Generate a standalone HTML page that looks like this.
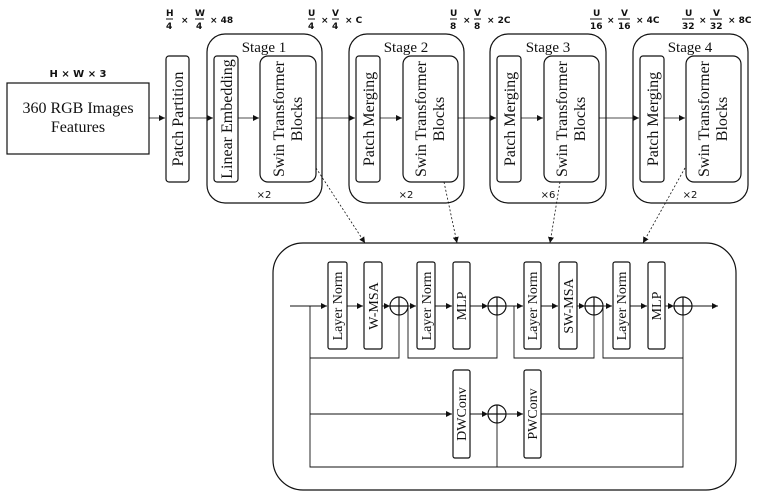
<!DOCTYPE html>
<html><head><meta charset="utf-8"><style>
html,body{margin:0;padding:0;background:#fff;}
svg{display:block;}
.s{font-family:"Liberation Serif",serif;fill:#111;}
.d{font-family:"DejaVu Sans","Liberation Sans",sans-serif;fill:#111;font-weight:bold;}
</style></head><body>
<svg width="758" height="500" viewBox="0 0 758 500" xmlns="http://www.w3.org/2000/svg">
<defs><marker id="a" markerWidth="7" markerHeight="7" refX="6" refY="3.5" orient="auto" markerUnits="userSpaceOnUse"><path d="M0,0.5 L6,3.5 L0,6.5 z" fill="#111"/></marker></defs>
<g fill="none" stroke="#111" stroke-width="1.2">
<rect x="7" y="83" width="142" height="71"/>
<rect x="166" y="56" width="23" height="126" rx="3"/>
<rect x="207" y="34" width="115" height="169" rx="18"/>
<rect x="214" y="56" width="24" height="126" rx="3"/>
<rect x="260" y="56" width="56" height="126" rx="8"/>
<rect x="349" y="34" width="115" height="169" rx="18"/>
<rect x="356" y="56" width="24" height="126" rx="3"/>
<rect x="403" y="56" width="55" height="126" rx="8"/>
<rect x="490" y="34" width="116" height="169" rx="18"/>
<rect x="497" y="56" width="24" height="126" rx="3"/>
<rect x="544" y="56" width="55" height="126" rx="8"/>
<rect x="633" y="34" width="115" height="169" rx="18"/>
<rect x="640" y="56" width="24" height="126" rx="3"/>
<rect x="686" y="56" width="55" height="126" rx="8"/>
</g>
<g stroke="#111" stroke-width="0.8" fill="none" marker-end="url(#a)">
<line x1="149" y1="118" x2="165" y2="118"/>
<line x1="189" y1="118" x2="213" y2="118"/>
<line x1="238" y1="118" x2="259" y2="118"/>
<line x1="316" y1="118" x2="355" y2="118"/>
<line x1="380" y1="118" x2="402" y2="118"/>
<line x1="458" y1="118" x2="496" y2="118"/>
<line x1="521" y1="118" x2="543" y2="118"/>
<line x1="599" y1="118" x2="639" y2="118"/>
<line x1="664" y1="118" x2="685" y2="118"/>
</g>
<g stroke="#111" stroke-width="0.8" stroke-dasharray="2,2" fill="none" marker-end="url(#a)">
<line x1="316" y1="168" x2="365" y2="243"/>
<line x1="444" y1="182" x2="457" y2="243"/>
<line x1="560" y1="182" x2="550" y2="243"/>
<line x1="685" y1="168" x2="643" y2="243"/>
</g>
<text class="s" x="78" y="113" font-size="16" text-anchor="middle">360 RGB Images</text>
<text class="s" x="78" y="132" font-size="16" text-anchor="middle">Features</text>
<text class="d" x="78" y="77" font-size="10" text-anchor="middle">H × W × 3</text>
<g class="s" font-size="15" text-anchor="middle">
<text x="264" y="52">Stage 1</text><text x="406" y="52">Stage 2</text><text x="548" y="52">Stage 3</text><text x="690" y="52">Stage 4</text>
</g>
<g font-family="DejaVu Sans,sans-serif" fill="#111" font-size="10" text-anchor="middle">
<text x="264" y="198">×2</text><text x="406" y="198">×2</text><text x="548" y="198">×6</text><text x="690" y="198">×2</text>
</g>
<g class="s" font-size="16" text-anchor="middle">
<text transform="translate(183,119) rotate(-90)">Patch Partition</text>
<text transform="translate(232,119) rotate(-90)">Linear Embedding</text>
<text transform="translate(374,119) rotate(-90)">Patch Merging</text>
<text transform="translate(515,119) rotate(-90)">Patch Merging</text>
<text transform="translate(658,119) rotate(-90)">Patch Merging</text>
<text transform="translate(284,119) rotate(-90)">Swin Transformer</text>
<text transform="translate(302,119) rotate(-90)">Blocks</text>
<text transform="translate(426,119) rotate(-90)">Swin Transformer</text>
<text transform="translate(444,119) rotate(-90)">Blocks</text>
<text transform="translate(567,119) rotate(-90)">Swin Transformer</text>
<text transform="translate(585,119) rotate(-90)">Blocks</text>
<text transform="translate(709,119) rotate(-90)">Swin Transformer</text>
<text transform="translate(727,119) rotate(-90)">Blocks</text>
</g>
<g class="d" font-size="9">
<g transform="translate(166,0)"><text x="0" y="16">H</text><line x1="0" y1="19" x2="7" y2="19" stroke="#111"/><text x="0" y="29">4</text><text x="15" y="23">×</text><text x="29" y="16">W</text><line x1="29" y1="19" x2="38" y2="19" stroke="#111"/><text x="30" y="29">4</text><text x="44" y="23">× 48</text></g>
<g transform="translate(308,0)"><text x="0" y="16">U</text><line x1="0" y1="19" x2="7" y2="19" stroke="#111"/><text x="0" y="29">4</text><text x="13" y="23">×</text><text x="24" y="16">V</text><line x1="24" y1="19" x2="31" y2="19" stroke="#111"/><text x="24" y="29">4</text><text x="37" y="23">× C</text></g>
<g transform="translate(450,0)"><text x="0" y="16">U</text><line x1="0" y1="19" x2="7" y2="19" stroke="#111"/><text x="0" y="29">8</text><text x="13" y="23">×</text><text x="24" y="16">V</text><line x1="24" y1="19" x2="31" y2="19" stroke="#111"/><text x="24" y="29">8</text><text x="37" y="23">× 2C</text></g>
<g transform="translate(590,0)"><text x="3" y="16">U</text><line x1="0" y1="19" x2="12" y2="19" stroke="#111"/><text x="0" y="29">16</text><text x="17" y="23">×</text><text x="31" y="16">V</text><line x1="28" y1="19" x2="40" y2="19" stroke="#111"/><text x="28" y="29">16</text><text x="46" y="23">× 4C</text></g>
<g transform="translate(682,0)"><text x="3" y="16">U</text><line x1="0" y1="19" x2="12" y2="19" stroke="#111"/><text x="0" y="29">32</text><text x="17" y="23">×</text><text x="31" y="16">V</text><line x1="28" y1="19" x2="40" y2="19" stroke="#111"/><text x="28" y="29">32</text><text x="46" y="23">× 8C</text></g>
</g>
<rect x="273" y="243" width="463" height="247" rx="30" fill="none" stroke="#111" stroke-width="1.2"/>
<g fill="none" stroke="#111" stroke-width="1.2">
<rect x="328" y="262" width="19" height="87" rx="2"/>
<rect x="364" y="262" width="18" height="87" rx="2"/>
<rect x="417" y="262" width="18" height="87" rx="2"/>
<rect x="453" y="262" width="17" height="87" rx="2"/>
<rect x="524" y="262" width="17" height="87" rx="2"/>
<rect x="559" y="262" width="18" height="87" rx="2"/>
<rect x="613" y="262" width="17" height="87" rx="2"/>
<rect x="648" y="262" width="17" height="87" rx="2"/>
<rect x="453" y="370" width="17" height="88" rx="2"/>
<rect x="524" y="370" width="17" height="88" rx="2"/>
<circle cx="399" cy="306" r="9"/><circle cx="497" cy="306" r="9"/><circle cx="594" cy="306" r="9"/><circle cx="683" cy="306" r="9"/><circle cx="497" cy="414" r="9"/>
<path d="M390 306H408M399 297V315M488 306H506M497 297V315M585 306H603M594 297V315M674 306H692M683 297V315M488 414H506M497 405V423"/>
</g>
<g stroke="#111" stroke-width="0.9" fill="none">
<path d="M310 306V467H683V315"/>
<path d="M310 358H399V315"/>
<path d="M408 306V358H497V315"/>
<path d="M514 306V358H594V315"/>
<path d="M603 306V358H683"/>
<path d="M541 414H683"/>
<path d="M497 467V423"/>
</g>
<g stroke="#111" stroke-width="0.9" fill="none" marker-end="url(#a)">
<line x1="290" y1="306" x2="327" y2="306"/>
<line x1="347" y1="306" x2="363" y2="306"/>
<line x1="382" y1="306" x2="390" y2="306"/>
<line x1="408" y1="306" x2="416" y2="306"/>
<line x1="435" y1="306" x2="452" y2="306"/>
<line x1="470" y1="306" x2="488" y2="306"/>
<line x1="506" y1="306" x2="523" y2="306"/>
<line x1="541" y1="306" x2="558" y2="306"/>
<line x1="577" y1="306" x2="585" y2="306"/>
<line x1="603" y1="306" x2="612" y2="306"/>
<line x1="630" y1="306" x2="647" y2="306"/>
<line x1="665" y1="306" x2="674" y2="306"/>
<line x1="692" y1="306" x2="718" y2="306"/>
<line x1="310" y1="414" x2="452" y2="414"/>
<line x1="470" y1="414" x2="488" y2="414"/>
<line x1="506" y1="414" x2="523" y2="414"/>
</g>
<g class="s" font-size="14" text-anchor="middle">
<text transform="translate(342,306) rotate(-90)">Layer Norm</text>
<text transform="translate(378,306) rotate(-90)">W-MSA</text>
<text transform="translate(431,306) rotate(-90)">Layer Norm</text>
<text transform="translate(466,306) rotate(-90)">MLP</text>
<text transform="translate(537,306) rotate(-90)">Layer Norm</text>
<text transform="translate(573,306) rotate(-90)">SW-MSA</text>
<text transform="translate(626,306) rotate(-90)">Layer Norm</text>
<text transform="translate(661,306) rotate(-90)">MLP</text>
<text transform="translate(466,414) rotate(-90)">DWConv</text>
<text transform="translate(537,414) rotate(-90)">PWConv</text>
</g>
</svg>
</body></html>
